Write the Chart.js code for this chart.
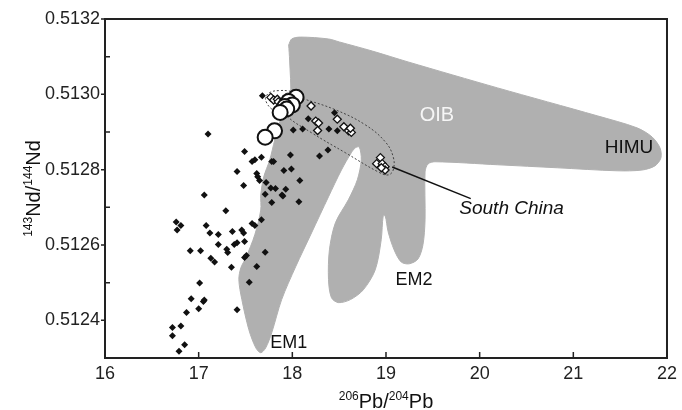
<!DOCTYPE html>
<html>
<head>
<meta charset="utf-8">
<script src="https://cdn.jsdelivr.net/npm/chart.js@4.4.0/dist/chart.umd.min.js"></script>
<style>
  html, body { margin: 0; padding: 0; background: #fff; }
  #wrap { width: 682px; height: 410px; }
</style>
</head>
<body>
<div id="wrap"><canvas id="chart"></canvas></div>
<script>
// 206Pb/204Pb vs 143Nd/144Nd

// pontos pretos (diamantes cheios)
const mantlePts = [
  [17.68,0.512996],[17.10,0.512895],[17.49,0.512848],[17.57,0.512822],[17.60,0.512826],[17.67,0.512833],
  [17.78,0.512822],[17.80,0.512822],[17.98,0.512839],[17.41,0.512795],[17.48,0.512758],[17.62,0.512790],
  [17.63,0.512781],[17.65,0.512771],[17.72,0.512766],[17.82,0.512750],[17.77,0.512751],[17.91,0.512798],
  [17.99,0.512802],[18.08,0.512771],[17.89,0.512733],[17.90,0.512730],[17.93,0.512748],[17.71,0.512735],
  [17.06,0.512733],[18.01,0.512905],[18.11,0.512908],[18.17,0.512935],[18.29,0.512836],[18.38,0.512852],
  [18.39,0.512908],[18.45,0.512951],[18.48,0.512903],[17.78,0.512713],[18.07,0.512715],[17.29,0.512691],
  [17.67,0.512667],[17.57,0.512657],[17.60,0.512652],[16.76,0.512661],[16.81,0.512652],[16.77,0.512640],
  [17.08,0.512652],[17.12,0.512632],[17.21,0.512628],[17.36,0.512636],[17.46,0.512640],[17.48,0.512632],
  [17.21,0.512601],[17.30,0.512589],[17.31,0.512580],[17.38,0.512601],[17.41,0.512606],[17.49,0.512609],
  [16.91,0.512585],[17.02,0.512585],[17.13,0.512565],[17.17,0.512555],[17.35,0.512541],[17.49,0.512567],
  [17.51,0.512572],[17.62,0.512543],[17.71,0.512581],[17.54,0.512501],[17.01,0.512499],[16.92,0.512457],
  [17.05,0.512450],[17.06,0.512454],[17.00,0.512431],[16.87,0.512421],[17.41,0.512428],[16.72,0.512381],
  [16.81,0.512385],[16.72,0.512359],[16.85,0.512335],[16.79,0.512318]
];

// South China (diamantes vazios)
const southChinaPts = [
  [18.20,0.512969],[18.25,0.512929],[18.28,0.512924],[18.27,0.512904],[18.48,0.512934],[18.55,0.512914],
  [18.60,0.512903],[18.63,0.512899],[18.62,0.512910],[18.94,0.512832],[18.90,0.512816],[18.96,0.512816],
  [18.99,0.512808],[18.99,0.512799],[18.95,0.512805],[17.77,0.512992],[17.80,0.512985],[17.84,0.512987],
  [17.85,0.512980]
];

// círculos grandes
const circlePts = [
  [18.04,0.512992],[17.96,0.512981],[18.00,0.512972],[17.92,0.512968],
  [17.94,0.512961],[17.87,0.512952],[17.81,0.512903],[17.71,0.512886]
];

// contorno do campo OIB
const oibField = [
  [17.961,0.513131],[17.993,0.513147],[18.088,0.513152],[18.386,0.513147],[18.503,0.513139],[18.853,0.513115],
  [19.236,0.513086],[20.192,0.513017],[21.255,0.512943],[21.680,0.512911],[21.840,0.512887],[21.925,0.512858],
  [21.935,0.512831],[21.871,0.512810],[21.733,0.512799],[21.468,0.512797],[20.830,0.512805],[20.192,0.512813],
  [19.523,0.512821],[19.448,0.512815],[19.417,0.512794],[19.417,0.512667],[19.395,0.512601],[19.342,0.512563],
  [19.247,0.512550],[19.162,0.512555],[19.087,0.512587],[19.023,0.512635],[18.992,0.512677],[18.970,0.512677],
  [18.949,0.512614],[18.885,0.512534],[18.758,0.512481],[18.620,0.512455],[18.492,0.512447],[18.418,0.512460],
  [18.386,0.512508],[18.396,0.512587],[18.460,0.512659],[18.598,0.512720],[18.694,0.512773],[18.736,0.512826],
  [18.715,0.512860],[18.673,0.512858],[18.630,0.512845],[18.524,0.512799],[18.386,0.512728],[18.205,0.512632],
  [18.035,0.512542],[17.886,0.512455],[17.780,0.512367],[17.716,0.512327],[17.663,0.512314],[17.610,0.512327],
  [17.536,0.512375],[17.461,0.512455],[17.429,0.512508],[17.451,0.512540],[17.504,0.512566],[17.599,0.512627],
  [17.663,0.512693],[17.663,0.512733],[17.695,0.512781],[17.759,0.512826],[17.812,0.512879],[17.865,0.512927],
  [17.939,0.512959],[17.982,0.512993],[17.971,0.513091],[17.961,0.513131]
];

// elipses pontilhadas
const scEllipse = [
  [17.950,0.513004],[18.099,0.512990],[18.460,0.512959],[18.779,0.512919],[18.992,0.512874],[19.077,0.512834],
  [19.077,0.512799],[19.023,0.512786],[18.917,0.512794],[18.566,0.512845],[18.205,0.512898],[17.929,0.512945],
  [17.876,0.512975],[17.897,0.512996],[17.950,0.513004]
];
const smallLoop = [
  [18.024,0.513004],[17.961,0.513009],[17.865,0.513010],[17.769,0.513006],[17.716,0.512993],
  [17.727,0.512977],[17.780,0.512961],[17.854,0.512951],[17.929,0.512945]
];

const leaderLine = [[19.066,0.512807],[19.905,0.512723]];

const xTicks = [16, 17, 18, 19, 20, 21, 22];
const yLabels = ['0.5124', '0.5126', '0.5128', '0.5130', '0.5132'];

// rótulos do gráfico
const notes = [
  { text: 'OIB',         at: [19.544, 0.512945], font: '20px "Liberation Sans"',        color: '#f6f6f6' },
  { text: 'HIMU',        at: [21.595, 0.512858], font: '19px "Liberation Sans"',        color: '#111' },
  { text: 'South China', at: [20.341, 0.512696], font: 'italic 19px "Liberation Sans"', color: '#111' },
  { text: 'EM1',         at: [17.961, 0.512341], font: '18px "Liberation Sans"',        color: '#111' },
  { text: 'EM2',         at: [19.300, 0.512508], font: '18px "Liberation Sans"',        color: '#111' }
];

const toXY = arr => arr.map(p => ({ x: p[0], y: p[1] }));

// texto com sobrescritos: [[texto, sobrescrito?], ...]
function drawSup(ctx, parts, cx, base) {
  const big = '20px "Liberation Sans"', small = '12px "Liberation Sans"';
  let w = 0;
  parts.forEach(([t, sup]) => { ctx.font = sup ? small : big; w += ctx.measureText(t).width; });
  let x = cx - w / 2;
  ctx.textAlign = 'left';
  ctx.textBaseline = 'alphabetic';
  parts.forEach(([t, sup]) => {
    ctx.font = sup ? small : big;
    ctx.fillText(t, x, sup ? base - 8 : base);
    x += ctx.measureText(t).width;
  });
}

const decor = {
  id: 'decor',
  afterDatasetsDraw(chart) {
    const { ctx, chartArea: a, scales: { x, y } } = chart;
    ctx.save();

    // moldura
    ctx.strokeStyle = '#222';
    ctx.lineWidth = 2;
    ctx.strokeRect(a.left, a.top, a.right - a.left, a.bottom - a.top);

    // marcas: x para dentro, y maiores para fora e menores para dentro
    ctx.lineWidth = 1.5;
    ctx.beginPath();
    x.ticks.forEach(t => {
      const px = x.getPixelForValue(t.value);
      ctx.moveTo(px, a.bottom); ctx.lineTo(px, a.bottom - 6);
    });
    y.ticks.forEach(t => {
      const py = y.getPixelForValue(t.value);
      ctx.moveTo(a.left, py);
      ctx.lineTo(t.label ? a.left - 4 : a.left + 5, py);
    });
    ctx.stroke();

    // rótulos
    ctx.textAlign = 'center';
    ctx.textBaseline = 'middle';
    notes.forEach(n => {
      ctx.font = n.font;
      ctx.fillStyle = n.color;
      ctx.fillText(n.text, x.getPixelForValue(n.at[0]), y.getPixelForValue(n.at[1]));
    });

    // títulos dos eixos
    ctx.fillStyle = '#111';
    drawSup(ctx, [['206', true], ['Pb/', false], ['204', true], ['Pb', false]], (a.left + a.right) / 2, 408);
    ctx.translate(40, (a.top + a.bottom) / 2);
    ctx.rotate(-Math.PI / 2);
    drawSup(ctx, [['143', true], ['Nd/', false], ['144', true], ['Nd', false]], 0, 0);

    ctx.restore();
  }
};

new Chart(document.getElementById('chart'), {
  type: 'scatter',
  data: {
    datasets: [
      {
        data: toXY(circlePts), order: 1,
        pointStyle: 'circle', pointRadius: 7.5,
        backgroundColor: '#fff', borderColor: '#111', borderWidth: 2
      },
      {
        data: toXY(southChinaPts), order: 2,
        pointStyle: 'rectRot', pointRadius: 4,
        backgroundColor: '#fff', borderColor: '#111', borderWidth: 1.3
      },
      {
        data: toXY(mantlePts), order: 3,
        pointStyle: 'rectRot', pointRadius: 3.5,
        backgroundColor: '#111', borderColor: '#111', borderWidth: 0
      },
      {
        type: 'line', data: toXY(scEllipse), order: 4,
        showLine: true, pointRadius: 0, tension: 0.4,
        borderColor: '#444', borderWidth: 1, borderDash: [2, 2], fill: false
      },
      {
        type: 'line', data: toXY(smallLoop), order: 4,
        showLine: true, pointRadius: 0, tension: 0.4,
        borderColor: '#444', borderWidth: 1, borderDash: [2, 2], fill: false
      },
      {
        type: 'line', data: toXY(leaderLine), order: 4,
        showLine: true, pointRadius: 0,
        borderColor: '#111', borderWidth: 1.5, fill: false
      },
      {
        type: 'line', data: toXY(oibField), order: 9,
        showLine: true, pointRadius: 0, tension: 0.3,
        borderColor: '#b0b0b0', borderWidth: 1, backgroundColor: '#b0b0b0', fill: 'shape'
      }
    ]
  },
  options: {
    responsive: true,
    maintainAspectRatio: false,
    animation: false,
    events: [],
    layout: { padding: { top: 19, right: 12, left: 0, bottom: 0 } },
    plugins: {
      legend: { display: false },
      tooltip: { enabled: false }
    },
    scales: {
      x: {
        type: 'linear', min: 16, max: 22,
        afterFit(scale) { scale.height = 52; },
        afterBuildTicks(scale) { scale.ticks = xTicks.map(v => ({ value: v })); },
        grid: { display: false, drawTicks: false },
        border: { display: false },
        ticks: {
          color: '#222', padding: 5,
          font: { family: 'Liberation Sans', size: 18 },
          callback: v => String(v)
        }
      },
      y: {
        type: 'linear', min: 0.5123, max: 0.5132,
        afterFit(scale) { scale.width = 105; },
        grid: { display: false, drawTicks: false },
        border: { display: false },
        ticks: {
          stepSize: 0.0001, autoSkip: false,
          color: '#222', padding: 5,
          font: { family: 'Liberation Sans', size: 18 },
          callback: v => {
            const s = v.toFixed(4);
            return yLabels.includes(s) ? s : '';
          }
        }
      }
    }
  },
  plugins: [decor]
});
</script>
</body>
</html>
